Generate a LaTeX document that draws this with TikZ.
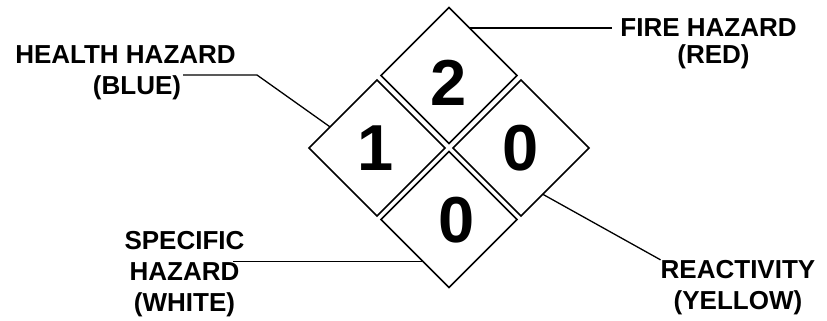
\documentclass[tikz,border=0pt]{standalone}
\usepackage{fontspec}
\setmainfont{Liberation Sans}
\usetikzlibrary{shapes.geometric,calc}

\tikzset{
  oo/.style={diamond,draw,line width=1.6bp,minimum width=136bp,minimum height=136bp,inner sep=0pt,outer sep=0pt,fill=white},
  so/.style={font=\fontsize{65bp}{65bp}\selectfont\bfseries,inner sep=0pt},
  nhan/.style={font=\fontsize{26bp}{31bp}\selectfont\bfseries,align=center,inner sep=0pt},
  duong/.style={line width=1.3bp}
}

\begin{document}
\begin{tikzpicture}[x=1bp,y=-1bp]
    % Nen trang
    \fill[white] (0,0) rectangle (827,320);
    \useasboundingbox (0,0) rectangle (827,320);
    % Bon o hinh thoi
    \node[oo] (dochay) at (449,75.5) {};
    \node[oo] (suckhoe) at (377,148) {};
    \node[oo] (phanung) at (521,148) {};
    \node[oo] (dacbiet) at (449,219.5) {};
    % Cac chu so
    \node[so] (s2) at (449,83.3) {2};
    \node[so] (s1) at (375.5,148.3) {1};
    \node[so] (s0a) at (521,148.3) {0};
    \node[so] (s0b) at (457,220) {0};
    % Nhan
    \node[nhan] (sknhan) at (125.5,72.6) {HEALTH HAZARD\\\hspace*{23bp}(BLUE)};
    \node[nhan,font=\fontsize{26bp}{27bp}\selectfont\bfseries] (chaynhan) at (708.5,43.5) {FIRE HAZARD\\\hspace*{10bp}(RED)};
    \node[nhan] (dbnhan) at (184.5,273.8) {SPECIFIC\\HAZARD\\(WHITE)};
    \node[nhan] (punhan) at (738,287.3) {REACTIVITY\\(YELLOW)};
    % Duong dan
    \coordinate (pchay) at ($(dochay.north)!0.3!(dochay.east)$);
    \draw[duong] (pchay) -- ([xshift=-8bp]chaynhan.west |- pchay);
    \coordinate (psk) at ($(suckhoe.north)!0.69!(suckhoe.west)$);
    \coordinate (gsk) at (257,75);
    \coordinate (dsk) at (183,75);
    \draw[duong] (psk) -- (gsk) -- (dsk);
    \coordinate (pdb) at ($(dacbiet.west)!0.62!(dacbiet.south)$);
    \draw[duong] (pdb) -- ([xshift=-12bp]dbnhan.east |- pdb);
    \coordinate (ppu) at ($(phanung.east)!0.68!(phanung.south)$);
    \draw[duong] (ppu) -- (punhan.north west);
\end{tikzpicture}
\end{document}
